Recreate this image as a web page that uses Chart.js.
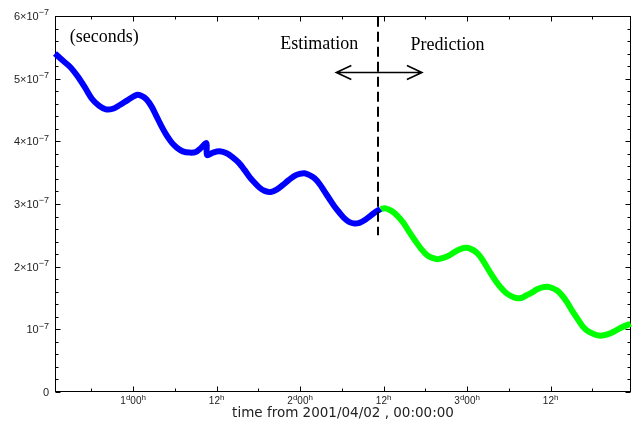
<!DOCTYPE html>
<html>
<head>
<meta charset="utf-8">
<script src="https://cdn.jsdelivr.net/npm/chart.js@4.4.1/dist/chart.umd.min.js"></script>
<style>
  html, body { margin: 0; padding: 0; background: #fff; }
  #wrap { width: 632px; height: 425px; }
</style>
</head>
<body>
<div id="wrap"><canvas id="clock-chart" width="632" height="425"></canvas></div>
<script>
// x: hours since 2001/04/02 00:00:00, y: clock offset in units of 1e-7 s
var estHours = [12.77, 13.77, 14.92, 16.07, 17.07, 18.07, 19.08, 20.08, 21.09, 22.09, 23.10, 23.81,
    24.49, 25.10, 25.92, 26.68, 27.40, 28.12, 28.84, 29.55, 30.27, 31.13, 32.13, 33.00, 33.71, 34.53,
    34.62, 35.48, 36.44, 37.44, 38.35, 39.17, 40.03, 40.74, 41.46, 42.18, 42.90, 43.76, 44.62, 45.48,
    46.34, 47.20, 47.92, 48.63, 49.35, 50.07, 50.79, 51.50, 52.22, 52.94, 53.66, 54.37, 55.09, 55.81,
    56.52, 57.24, 57.96, 58.68, 59.54];
var estValues = [5.40, 5.30, 5.19, 5.03, 4.86, 4.68, 4.57, 4.51, 4.52, 4.58, 4.65, 4.70,
    4.74, 4.73, 4.67, 4.55, 4.39, 4.23, 4.09, 3.98, 3.90, 3.84, 3.82, 3.83, 3.89, 3.97,
    3.78, 3.82, 3.84, 3.81, 3.74, 3.66, 3.54, 3.43, 3.34, 3.26, 3.21, 3.19, 3.23, 3.30,
    3.38, 3.45, 3.48, 3.49, 3.46, 3.41, 3.32, 3.20, 3.08, 2.96, 2.86, 2.77, 2.71, 2.69,
    2.70, 2.74, 2.80, 2.86, 2.92];
var predHours = [59.54, 60.26, 61.12, 61.98, 62.84, 63.70, 64.56, 65.42, 66.28, 67.00, 67.72, 68.58,
    69.44, 70.30, 71.02, 71.83, 72.59, 73.31, 74.03, 74.75, 75.46, 76.18, 76.90, 77.61, 78.33, 79.05,
    79.77, 80.48, 81.35, 82.06, 82.78, 83.50, 84.21, 84.93, 85.65, 86.37, 87.08, 87.80, 88.52, 89.24,
    90.10, 90.96, 91.82, 92.68, 93.54, 94.40, 95.50];
var predValues = [2.92, 2.93, 2.89, 2.81, 2.70, 2.55, 2.41, 2.28, 2.18, 2.14, 2.12, 2.14,
    2.18, 2.24, 2.28, 2.30, 2.28, 2.23, 2.14, 2.01, 1.88, 1.76, 1.66, 1.58, 1.53, 1.50,
    1.50, 1.54, 1.59, 1.64, 1.67, 1.68, 1.66, 1.62, 1.54, 1.43, 1.30, 1.18, 1.06, 0.98,
    0.93, 0.90, 0.91, 0.94, 0.99, 1.04, 1.09];

var xRange = [12.77, 95.55];
var yRange = [0, 6];
var xMajorHours = [24, 36, 48, 60, 72, 84];
var xMinorHours = [18, 30, 42, 54, 66, 78, 90];
// text in {} is raised as a superscript
var xTickLabels = ['1{d}00{h}', '12{h}', '2{d}00{h}', '12{h}', '3{d}00{h}', '12{h}'];
var yMajorValues = [0, 1, 2, 3, 4, 5, 6];
var yTickLabels = ['0', '10{−7}', '2×10{−7}', '3×10{−7}', '4×10{−7}', '5×10{−7}', '6×10{−7}'];
var xTitle = 'time from 2001/04/02 , 00:00:00';

var splitHour = 59.25;   // end of estimation window
var labelFont = '"Liberation Sans", Arial, sans-serif';
var serifFont = '"Liberation Serif", "Times New Roman", serif';

function toPoints(xs, ys) {
    return xs.map(function (x, i) { return { x: x, y: ys[i] }; });
}

function drawRich(ctx, text, x, y, align, size, supSize) {
    var parts = text.split(/[{}]/);
    var base = size + 'px ' + labelFont;
    var sup = supSize + 'px ' + labelFont;
    var widths = parts.map(function (p, i) {
        ctx.font = (i % 2) ? sup : base;
        return ctx.measureText(p).width;
    });
    var total = widths.reduce(function (a, b) { return a + b; }, 0);
    var cx = align === 'right' ? x - total : (align === 'center' ? x - total / 2 : x);
    ctx.textAlign = 'left';
    ctx.textBaseline = 'alphabetic';
    parts.forEach(function (p, i) {
        ctx.font = (i % 2) ? sup : base;
        ctx.fillText(p, cx, (i % 2) ? y - size * 0.42 : y);
        cx += widths[i];
    });
}

// frame with inward ticks on all four sides, plus tick labels
var framePlugin = {
    id: 'frame',
    beforeDatasetsDraw: function (chart) {
        var ctx = chart.ctx;
        var a = chart.chartArea;
        var xs = chart.scales.x, ys = chart.scales.y;
        var L = Math.round(a.left) + 0.5, R = Math.round(a.right) - 0.5;
        var T = Math.round(a.top) + 0.5, B = Math.round(a.bottom) - 0.5;
        ctx.save();
        ctx.strokeStyle = '#000';
        ctx.lineWidth = 1;
        ctx.strokeRect(L, T, R - L, B - T);

        ctx.beginPath();
        function xTick(h, len) {
            var px = Math.round(xs.getPixelForValue(h)) + 0.5;
            ctx.moveTo(px, B); ctx.lineTo(px, B - len);
            ctx.moveTo(px, T); ctx.lineTo(px, T + len);
        }
        function yTick(v, len) {
            var py = Math.round(ys.getPixelForValue(v)) + 0.5;
            ctx.moveTo(L, py); ctx.lineTo(L + len, py);
            ctx.moveTo(R, py); ctx.lineTo(R - len, py);
        }
        xMajorHours.forEach(function (h) { xTick(h, 5); });
        xMinorHours.forEach(function (h) { xTick(h, 3); });
        for (var v = yRange[0]; v <= yRange[1] + 1e-9; v += 0.2) {
            var major = Math.abs(v - Math.round(v)) < 1e-6;
            yTick(v, major ? 5 : 3);
        }
        ctx.stroke();

        ctx.fillStyle = '#222';
        xMajorHours.forEach(function (h, i) {
            drawRich(ctx, xTickLabels[i], xs.getPixelForValue(h), 404, 'center', 10, 8);
        });
        yMajorValues.forEach(function (v, i) {
            drawRich(ctx, yTickLabels[i], a.left - 6, ys.getPixelForValue(v) + 4, 'right', 11, 9);
        });
        ctx.font = '13.5px "DejaVu Sans", sans-serif';
        ctx.textAlign = 'center';
        ctx.fillText(xTitle, (a.left + a.right) / 2, 417);
        ctx.restore();
    },
    afterDatasetsDraw: function (chart) {
        var ctx = chart.ctx;
        var xs = chart.scales.x, ys = chart.scales.y;
        var sx = Math.round(xs.getPixelForValue(splitHour));
        ctx.save();
        // boundary between estimation and prediction
        ctx.strokeStyle = '#000';
        ctx.lineWidth = 2;
        ctx.setLineDash([10, 5]);
        ctx.beginPath();
        ctx.moveTo(sx, ys.getPixelForValue(5.99));
        ctx.lineTo(sx, ys.getPixelForValue(2.5));
        ctx.stroke();
        ctx.setLineDash([]);

        // double-headed arrow
        var ay = Math.round(ys.getPixelForValue(5.1)) + 0.5;
        var ax0 = xs.getPixelForValue(53.2), ax1 = xs.getPixelForValue(65.5);
        ctx.lineWidth = 1.6;
        ctx.beginPath();
        ctx.moveTo(ax0, ay); ctx.lineTo(ax1, ay);
        ctx.moveTo(ax0 + 15, ay - 7); ctx.lineTo(ax0, ay); ctx.lineTo(ax0 + 15, ay + 7);
        ctx.moveTo(ax1 - 15, ay - 7); ctx.lineTo(ax1, ay); ctx.lineTo(ax1 - 15, ay + 7);
        ctx.stroke();

        ctx.fillStyle = '#000';
        ctx.font = '18px ' + serifFont;
        ctx.textAlign = 'left';
        ctx.textBaseline = 'alphabetic';
        ctx.fillText('(seconds)', xs.getPixelForValue(14.9), ys.getPixelForValue(5.58));
        ctx.fillText('Estimation', xs.getPixelForValue(45.15), ys.getPixelForValue(5.47));
        ctx.fillText('Prediction', xs.getPixelForValue(63.85), ys.getPixelForValue(5.46));
        ctx.restore();
    }
};

var chart = new Chart(document.getElementById('clock-chart').getContext('2d'), {
    type: 'line',
    data: {
        datasets: [
            {
                label: 'Estimation',
                data: toPoints(estHours, estValues),
                borderColor: '#0000ff',
                borderWidth: 6,
                pointRadius: 0,
                tension: 0.3,
                clip: false
            },
            {
                label: 'Prediction',
                data: toPoints(predHours, predValues),
                borderColor: '#00ff00',
                borderWidth: 6,
                pointRadius: 0,
                tension: 0.3,
                clip: false
            }
        ]
    },
    options: {
        responsive: false,
        animation: false,
        devicePixelRatio: 1,
        layout: { padding: { left: 55, top: 16, right: 1, bottom: 33 } },
        plugins: { legend: { display: false }, tooltip: { enabled: false } },
        scales: {
            x: { type: 'linear', min: xRange[0], max: xRange[1], display: false },
            y: { type: 'linear', min: yRange[0], max: yRange[1], display: false }
        }
    },
    plugins: [framePlugin]
});
</script>
</body>
</html>
